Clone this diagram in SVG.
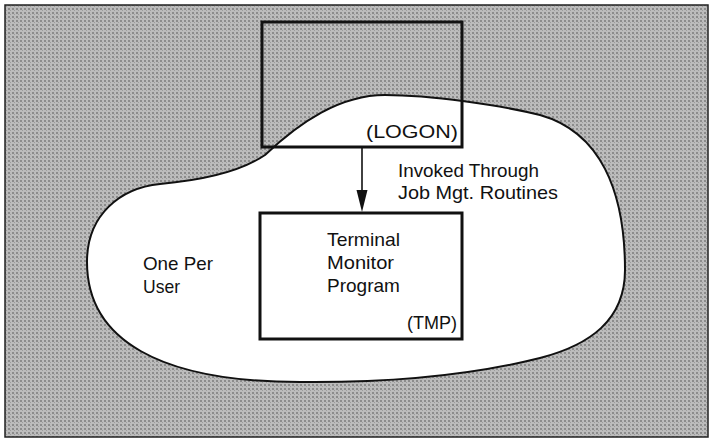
<svg xmlns="http://www.w3.org/2000/svg" width="710" height="438" viewBox="0 0 710 438">
<style>
.box{fill:none;stroke:#111;stroke-width:3}
.t{font-family:"Liberation Sans",Arial,sans-serif;font-size:19px;fill:#111}
.r{text-anchor:end}
.conn{stroke:#111;stroke-width:1.6;fill:none}
</style>
<defs>
<pattern id="ht" width="4" height="4" patternUnits="userSpaceOnUse">
<rect width="4" height="4" fill="#bcbcbc"/>
<rect width="2" height="2" fill="#8c8c8c"/>
<rect x="2" y="2" width="1" height="1" fill="#9c9c9c"/>
</pattern>
</defs>
<rect id="frame" x="5" y="5" width="703" height="432" fill="url(#ht)" stroke="#222" stroke-width="1.5"/>
<g id="region">
<path d="M87,262 C87,215 120,188 160,184 C205,180 240,172 265,155 C300,122 340,95 385,95 C430,95 500,105 540,115 C600,132 625,190 625,270 C625,320 590,345 540,358 C480,373 400,383 300,382 C160,382 87,340 87,262 Z" fill="#fff" stroke="#111" stroke-width="2"/>
<text class="t" x="143" y="270" textLength="70" lengthAdjust="spacingAndGlyphs">One Per</text>
<text class="t" x="143" y="293" textLength="37" lengthAdjust="spacingAndGlyphs">User</text>
</g>
<g id="logon">
<rect class="box" x="262" y="22" width="200" height="125"/>
<text class="t" x="366" y="138" textLength="92" lengthAdjust="spacingAndGlyphs">(LOGON)</text>
</g>
<g id="tmp">
<rect class="box" x="260" y="213" width="202" height="126"/>
<text class="t" x="327" y="246" textLength="73" lengthAdjust="spacingAndGlyphs">Terminal</text>
<text class="t" x="327" y="269" textLength="67" lengthAdjust="spacingAndGlyphs">Monitor</text>
<text class="t" x="327" y="292">Program</text>
<text class="t" x="407" y="329" textLength="50" lengthAdjust="spacingAndGlyphs">(TMP)</text>
</g>
<g id="connectors">
<line class="conn" x1="362" y1="147" x2="362" y2="194"/>
<path d="M356.5,190 L367.5,190 L362,212 Z" fill="#111"/>
<text class="t" x="398" y="177" textLength="141" lengthAdjust="spacingAndGlyphs">Invoked Through</text>
<text class="t" x="398" y="199" textLength="160" lengthAdjust="spacingAndGlyphs">Job Mgt. Routines</text>
</g>
</svg>
